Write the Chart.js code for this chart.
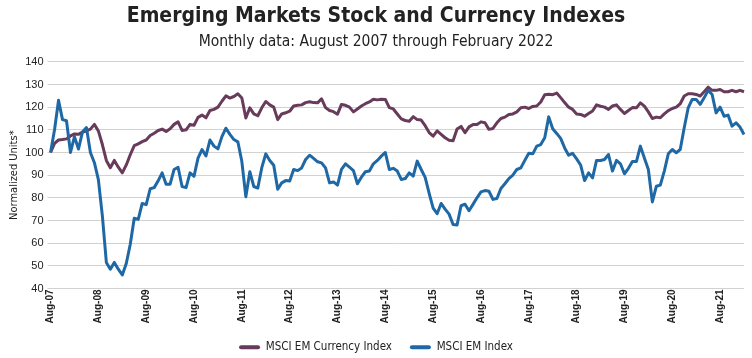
<!DOCTYPE html>
<html>
<head>
<meta charset="utf-8">
<script src="https://cdn.jsdelivr.net/npm/chart.js@4.4.1/dist/chart.umd.min.js"></script>
<style>
  html, body { margin: 0; padding: 0; background: #ffffff; }
  #wrap { width: 752px; height: 358px; position: relative; }
</style>
</head>
<body>
<div id="wrap"><canvas id="c" width="752" height="358"></canvas></div>
<script>
// Monthly categories: Aug-07 through Feb-22
const monthNames = ['Jan','Feb','Mar','Apr','May','Jun','Jul','Aug','Sep','Oct','Nov','Dec'];
const categories = [];
for (let i = 0; i < 175; i++) {
  const m = (7 + i) % 12;
  const y = 2007 + Math.floor((7 + i) / 12);
  categories.push(monthNames[m] + '-' + String(y).slice(2));
}
const tickMonth = 'Aug';
const yTicks = [40, 50, 60, 70, 80, 90, 100, 110, 120, 130, 140];

const currencyIndex = [
  100, 104, 105.5, 105.7, 106, 107.3, 108.2, 108, 109, 109.5, 110.3, 112.4,
  109.5, 103.5, 96.5, 93.3, 96.5, 93.5, 91, 94.5, 99, 103, 103.8, 104.8,
  105.5, 107.5, 108.5, 109.7, 110.3, 109.3, 110.5, 112.4, 113.5, 109.7, 110, 112.4,
  112, 115.5, 116.5, 115.3, 118.5, 119, 120, 122.6, 125, 124, 124.7, 125.9,
  124, 115.2, 119.7, 117, 116.2, 119.7, 122.5, 121, 120, 114.5, 117, 117.5,
  118.2, 120.5, 120.8, 121, 122, 122.4, 122, 121.9, 123.7, 119.8, 118.5, 118,
  116.9, 121.2, 120.8, 120, 117.9, 119.2, 120.5, 121.5, 122.3, 123.5, 123.2, 123.5,
  123.4, 119.8, 119.2, 117, 114.8, 114.1, 113.8, 115.8, 114.5, 114.3, 111.8, 108.8,
  107.2, 109.5, 108, 106.5, 105.4, 105.2, 110.4, 111.5, 108.7, 111.3, 112.3, 112.3,
  113.5, 113.1, 110.2, 110.6, 113.1, 115, 115.6, 116.8, 117, 117.9, 119.7, 120,
  119.4, 120.3, 120.5, 122.3, 125.5, 125.7, 125.5, 126.2, 124.2, 122, 120, 119,
  117, 116.8, 116, 117.2, 118.3, 121, 120.4, 120, 119, 120.5, 121, 119,
  117.2, 118.5, 119.8, 119.7, 121.9, 120.4, 117.9, 115, 115.6, 115.3, 117, 118.5,
  119.4, 120, 121.5, 124.9, 125.9, 125.9, 125.6, 124.9, 126.8, 128.8, 127.4, 127.4,
  127.8, 126.8, 126.8, 127.4, 126.8, 127.4, 126.8
];

const stockIndex = [
  100, 110, 123, 114.5, 114, 100, 107, 101.5, 109, 111, 100, 95.5,
  88, 72, 51.5, 48.5, 51.5, 48.5, 46, 51, 59.5, 71, 70.5, 77.5,
  77, 84, 84.5, 87.5, 91, 86, 86, 92.5, 93.5, 85, 84.5, 91,
  89.5, 97.5, 101.3, 98.5, 105.5, 102.8, 101.6, 107, 110.7, 108, 105.7, 104.7,
  96, 80.5, 91.5, 85, 84.3, 93.3, 99.4, 96.5, 94.4, 83.8, 86.6, 87.6,
  87.4, 92.5, 92, 93.2, 96.9, 98.8, 97.4, 95.9, 95.4, 93.2, 86.6, 87,
  85.6, 92.5, 95, 93.5, 92, 86.2, 89.1, 91.5, 91.8, 95, 96.5, 98.4,
  100, 92.5, 93, 91.8, 88.1, 88.5, 91, 89.6, 96.2, 92.5, 89, 82,
  75.5, 73, 77.5, 75, 72.8, 68.2, 68, 76.5, 77.2, 74.3, 77.1, 80,
  82.6, 83.2, 82.9, 79.3, 79.7, 84.1, 86.2, 88.5, 90, 92.5, 93.2, 96.5,
  99.7, 99.4, 102.8, 103.5, 106.5, 115.7, 110.5, 108.4, 106.2, 102, 98.8, 99.6,
  97.2, 94.5, 87.6, 91, 88.8, 96.5, 96.5, 96.9, 99.1, 91.8, 96.5, 95,
  90.6, 93, 96, 96, 102.8, 97.6, 92.5, 78.2, 85.1, 85.6, 91.8, 99.4,
  101.3, 99.9, 101.3, 110.9, 119.7, 123.4, 123.4, 121.2, 124.1, 127.4, 125.6, 117.5,
  120, 116, 116.5, 111.6, 113.1, 111.2, 107.9
];

const seriesNames = ['MSCI EM Currency Index', 'MSCI EM Index'];
const seriesColors = ['#673b59', '#1f68a6'];

const cond = "'DejaVu Sans Condensed', 'Liberation Sans', sans-serif";
const regular = "'Liberation Sans', Arial, sans-serif";

new Chart(document.getElementById('c'), {
  type: 'line',
  data: {
    labels: categories,
    datasets: [
      { label: seriesNames[0], data: currencyIndex, borderColor: seriesColors[0], backgroundColor: seriesColors[0],
        borderWidth: 3, pointRadius: 0, tension: 0, order: 2, borderJoinStyle: 'round' },
      { label: seriesNames[1], data: stockIndex, borderColor: seriesColors[1], backgroundColor: seriesColors[1],
        borderWidth: 3, pointRadius: 0, tension: 0, order: 1, borderJoinStyle: 'round' }
    ]
  },
  options: {
    responsive: false,
    animation: false,
    devicePixelRatio: 1,
    layout: { padding: { left: 8, right: 8, top: 0, bottom: -5 } },
    plugins: {
      title: {
        display: true,
        text: 'Emerging Markets Stock and Currency Indexes',
        color: '#222222',
        font: { family: cond, size: 21, weight: 'bold', lineHeight: 1.2 },
        padding: { top: 4, bottom: 0 }
      },
      subtitle: {
        display: true,
        text: 'Monthly data: August 2007 through February 2022',
        color: '#222222',
        font: { family: cond, size: 15.5, weight: 'normal', lineHeight: 1.2 },
        padding: { top: 3, bottom: 11 }
      },
      legend: {
        position: 'bottom',
        labels: {
          color: '#222222',
          font: { family: cond, size: 11.5 },
          boxWidth: 21,
          boxHeight: 4,
          padding: 18,
          sort: (a, b) => a.datasetIndex - b.datasetIndex,
          generateLabels: (chart) => chart.data.datasets.map((ds, i) => ({
            text: ds.label, fillStyle: ds.borderColor, strokeStyle: ds.borderColor,
            lineWidth: 0, hidden: false, datasetIndex: i, borderRadius: 2, fontColor: '#222222'
          }))
        }
      },
      tooltip: { enabled: false }
    },
    scales: {
      x: {
        type: 'category',
        offset: false,
        grid: { display: false, drawTicks: false },
        border: { display: false },
        afterFit: (scale) => { scale.height = 35; },
        ticks: {
          autoSkip: false,
          maxRotation: 90,
          minRotation: 90,
          padding: 1,
          color: '#222222',
          font: { family: regular, size: 10, weight: 'bold' },
          callback: function (value, index) {
            const lab = categories[index];
            return lab.startsWith(tickMonth) ? lab : null;
          }
        }
      },
      y: {
        min: 40,
        max: 140,
        afterBuildTicks: (axis) => { axis.ticks = yTicks.map(v => ({ value: v })); },
        grid: { color: '#d2d2d2', lineWidth: 1, drawTicks: true, tickLength: 3 },
        border: { display: false },
        ticks: { color: '#222222', font: { family: regular, size: 11 }, padding: 4 },
        title: {
          display: true,
          text: 'Normalized Units*',
          color: '#222222',
          font: { family: cond, size: 11 },
          padding: { top: 0, bottom: 0 }
        }
      }
    }
  }
});
</script>
</body>
</html>
